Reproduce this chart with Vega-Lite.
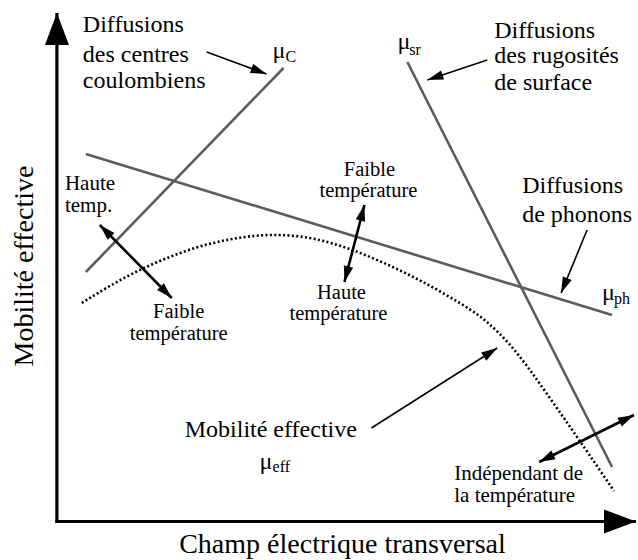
{
  "$schema": "https://vega.github.io/schema/vega-lite/v6.json",
  "width": 638,
  "height": 560,
  "autosize": {"type": "fit", "contains": "padding"},
  "padding": 0,
  "background": "white",
  "config": {"view": {"stroke": null}, "text": {"font": "Liberation Serif", "color": "black"}},
  "datasets": {
    "arrows": [
      {"kind": "axis", "x": 57, "y": 37, "x2": 57, "y2": 547},
      {"kind": "axis", "x": 55.5, "y": 38.5, "x2": 637, "y2": 38.5},
      {"kind": "single", "x": 207, "y": 508, "x2": 267, "y2": 486},
      {"kind": "single", "x": 488, "y": 500, "x2": 428, "y2": 480},
      {"kind": "single", "x": 588, "y": 330, "x2": 562, "y2": 267},
      {"kind": "single", "x": 372, "y": 132, "x2": 498, "y2": 212},
      {"kind": "double", "x": 100, "y": 335, "x2": 172, "y2": 262},
      {"kind": "double", "x": 365, "y": 355, "x2": 345, "y2": 278},
      {"kind": "double", "x": 540, "y": 98, "x2": 635, "y2": 145}
    ],
    "mu": [
      {"name": "muC", "x": 86, "y": 288, "x2": 284, "y2": 492},
      {"name": "muph", "x": 86, "y": 406, "x2": 613, "y2": 245},
      {"name": "musr", "x": 408, "y": 498, "x2": 613, "y2": 93}
    ],
    "eff": [
      {"x": 82, "y": 257}, {"x": 110, "y": 274}, {"x": 140, "y": 290},
      {"x": 170, "y": 303}, {"x": 200, "y": 313.5}, {"x": 230, "y": 320.5},
      {"x": 260, "y": 324.5}, {"x": 290, "y": 324.5}, {"x": 320, "y": 320},
      {"x": 350, "y": 311}, {"x": 380, "y": 299}, {"x": 410, "y": 285},
      {"x": 440, "y": 269}, {"x": 470, "y": 251}, {"x": 490, "y": 236},
      {"x": 510, "y": 216}, {"x": 530, "y": 191}, {"x": 550, "y": 163},
      {"x": 570, "y": 134.5}, {"x": 590, "y": 105.5}, {"x": 615, "y": 69}
    ],
    "texts": [
      {"t": "Diffusions", "x": 83, "y": 528, "cls": "big"},
      {"t": "des centres", "x": 83, "y": 498, "cls": "big"},
      {"t": "coulombiens", "x": 83, "y": 472, "cls": "big"},
      {"t": "Diffusions", "x": 495, "y": 522, "cls": "big"},
      {"t": "des rugosités", "x": 495, "y": 497, "cls": "big"},
      {"t": "de surface", "x": 495, "y": 470, "cls": "big"},
      {"t": "Diffusions", "x": 523, "y": 367, "cls": "big"},
      {"t": "de phonons", "x": 523, "y": 338, "cls": "big"},
      {"t": "Mobilité effective", "x": 185, "y": 123, "cls": "big"},
      {"t": "Haute", "x": 65, "y": 370, "cls": "mid"},
      {"t": "temp.", "x": 65, "y": 348, "cls": "mid"},
      {"t": "Indépendant de", "x": 455, "y": 80, "cls": "mid"},
      {"t": "la température", "x": 455, "y": 58, "cls": "mid"},
      {"t": "Faible", "x": 179, "y": 242, "cls": "midc"},
      {"t": "température", "x": 179, "y": 220, "cls": "midc"},
      {"t": "Faible", "x": 370, "y": 384, "cls": "midc"},
      {"t": "température", "x": 369, "y": 363, "cls": "midc"},
      {"t": "Haute", "x": 342, "y": 261, "cls": "midc"},
      {"t": "température", "x": 339, "y": 240, "cls": "midc"},
      {"t": "μ", "x": 273, "y": 502, "cls": "mu"},
      {"t": "C", "x": 286, "y": 498, "cls": "sub"},
      {"t": "μ", "x": 398, "y": 511, "cls": "mu"},
      {"t": "sr", "x": 410, "y": 505, "cls": "sub"},
      {"t": "μ", "x": 603, "y": 260, "cls": "mu"},
      {"t": "ph", "x": 615, "y": 256, "cls": "sub"},
      {"t": "μ", "x": 260, "y": 91, "cls": "mu"},
      {"t": "eff", "x": 273, "y": 88, "cls": "sub"},
      {"t": "Champ électrique transversal", "x": 343, "y": 7, "cls": "xtitle"},
      {"t": "Mobilité effective", "x": 33, "y": 294, "cls": "ytitle"}
    ]
  },
  "encoding": {
    "x": {"field": "x", "type": "quantitative", "scale": {"domain": [0, 638], "nice": false, "zero": false}, "axis": null},
    "y": {"field": "y", "type": "quantitative", "scale": {"domain": [0, 560], "nice": false, "zero": false}, "axis": null}
  },
  "layer": [
    {
      "data": {"name": "mu"},
      "mark": {"type": "rule", "color": "#5c5c5c", "strokeWidth": 2.6},
      "encoding": {"x2": {"field": "x2"}, "y2": {"field": "y2"}}
    },
    {
      "data": {"name": "eff"},
      "mark": {"type": "line", "color": "black", "strokeWidth": 2.6, "strokeDash": [2, 2.4], "interpolate": "natural"},
      "encoding": {}
    },
    {
      "data": {"name": "arrows"},
      "transform": [{"filter": "datum.kind == 'axis'"}],
      "mark": {"type": "rule", "color": "black", "strokeWidth": 3.2},
      "encoding": {"x2": {"field": "x2"}, "y2": {"field": "y2"}}
    },
    {
      "data": {"name": "arrows"},
      "transform": [{"filter": "datum.kind == 'single'"}],
      "mark": {"type": "rule", "color": "black", "strokeWidth": 1.6},
      "encoding": {"x2": {"field": "x2"}, "y2": {"field": "y2"}}
    },
    {
      "data": {"name": "arrows"},
      "transform": [{"filter": "datum.kind == 'double'"}],
      "mark": {"type": "rule", "color": "black", "strokeWidth": 2.6},
      "encoding": {"x2": {"field": "x2"}, "y2": {"field": "y2"}}
    },
    {
      "data": {"name": "arrows"},
      "transform": [
        {"filter": "datum.kind == 'axis'"},
        {"calculate": "atan2(datum.x2 - datum.x, datum.y2 - datum.y) * 180 / PI", "as": "ang"}
      ],
      "mark": {"type": "point", "shape": "M0,0L-0.75,2L0.75,2Z", "filled": true, "color": "black", "opacity": 1, "size": 1024, "strokeWidth": 0},
      "encoding": {
        "x": {"field": "x2", "type": "quantitative", "axis": null},
        "y": {"field": "y2", "type": "quantitative", "axis": null},
        "angle": {"field": "ang", "type": "quantitative", "scale": null}
      }
    },
    {
      "data": {"name": "arrows"},
      "transform": [
        {"filter": "datum.kind != 'axis'"},
        {"calculate": "atan2(datum.x2 - datum.x, datum.y2 - datum.y) * 180 / PI", "as": "ang"}
      ],
      "mark": {"type": "point", "shape": "M0,0L-0.6,2L0.6,2Z", "filled": true, "color": "black", "opacity": 1, "size": 256, "strokeWidth": 0},
      "encoding": {
        "x": {"field": "x2", "type": "quantitative", "axis": null},
        "y": {"field": "y2", "type": "quantitative", "axis": null},
        "angle": {"field": "ang", "type": "quantitative", "scale": null}
      }
    },
    {
      "data": {"name": "arrows"},
      "transform": [
        {"filter": "datum.kind == 'double'"},
        {"calculate": "atan2(datum.x - datum.x2, datum.y - datum.y2) * 180 / PI", "as": "ang"}
      ],
      "mark": {"type": "point", "shape": "M0,0L-0.6,2L0.6,2Z", "filled": true, "color": "black", "opacity": 1, "size": 256, "strokeWidth": 0},
      "encoding": {
        "angle": {"field": "ang", "type": "quantitative", "scale": null}
      }
    },
    {
      "data": {"name": "texts"},
      "transform": [{"filter": "datum.cls == 'big'"}],
      "mark": {"type": "text", "font": "Liberation Serif", "fontSize": 24, "align": "left", "baseline": "alphabetic"},
      "encoding": {"text": {"field": "t"}}
    },
    {
      "data": {"name": "texts"},
      "transform": [{"filter": "datum.cls == 'mid'"}],
      "mark": {"type": "text", "font": "Liberation Serif", "fontSize": 21, "align": "left", "baseline": "alphabetic"},
      "encoding": {"text": {"field": "t"}}
    },
    {
      "data": {"name": "texts"},
      "transform": [{"filter": "datum.cls == 'midc'"}],
      "mark": {"type": "text", "font": "Liberation Serif", "fontSize": 20.5, "align": "center", "baseline": "alphabetic"},
      "encoding": {"text": {"field": "t"}}
    },
    {
      "data": {"name": "texts"},
      "transform": [{"filter": "datum.cls == 'mu'"}],
      "mark": {"type": "text", "font": "Liberation Serif", "fontSize": 24, "align": "left", "baseline": "alphabetic"},
      "encoding": {"text": {"field": "t"}}
    },
    {
      "data": {"name": "texts"},
      "transform": [{"filter": "datum.cls == 'sub'"}],
      "mark": {"type": "text", "font": "Liberation Serif", "fontSize": 16, "align": "left", "baseline": "alphabetic"},
      "encoding": {"text": {"field": "t"}}
    },
    {
      "data": {"name": "texts"},
      "transform": [{"filter": "datum.cls == 'xtitle'"}],
      "mark": {"type": "text", "font": "Liberation Serif", "fontSize": 28, "align": "center", "baseline": "alphabetic"},
      "encoding": {"text": {"field": "t"}}
    },
    {
      "data": {"name": "texts"},
      "transform": [{"filter": "datum.cls == 'ytitle'"}],
      "mark": {"type": "text", "font": "Liberation Serif", "fontSize": 28, "align": "center", "baseline": "alphabetic", "angle": 270},
      "encoding": {"text": {"field": "t"}}
    }
  ]
}
